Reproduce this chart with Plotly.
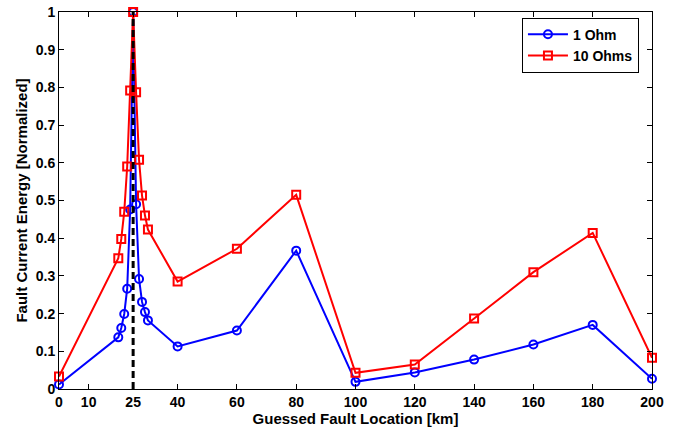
import plotly.graph_objects as go

# Guessed fault locations [km] and normalized fault current energies
location_km = [0, 20, 21, 22, 23, 24, 25, 26, 27, 28, 29, 30, 40, 60, 80, 100, 120, 140, 160, 180, 200]
energy_1ohm = [0.012, 0.137, 0.162, 0.199, 0.266, 0.476, 1.0, 0.490, 0.292, 0.231, 0.204, 0.182,
               0.113, 0.155, 0.367, 0.019, 0.044, 0.078, 0.118, 0.170, 0.027]
energy_10ohm = [0.033, 0.347, 0.398, 0.470, 0.590, 0.792, 1.0, 0.787, 0.608, 0.513, 0.460, 0.423,
                0.285, 0.372, 0.515, 0.043, 0.065, 0.187, 0.310, 0.414, 0.083]

# Actual fault position marker
actual_fault_km = 25
marker_span = [0, 1]

x_ticks = [0, 10, 25, 40, 60, 80, 100, 120, 140, 160, 180, 200]
x_tick_text = [str(v) for v in x_ticks]
y_ticks = [0, 0.1, 0.2, 0.3, 0.4, 0.5, 0.6, 0.7, 0.8, 0.9, 1]
y_tick_text = ["0", "0.1", "0.2", "0.3", "0.4", "0.5", "0.6", "0.7", "0.8", "0.9", "1"]

FONT = "Arial, Liberation Sans, sans-serif"


def bold(labels):
    return [f"<b>{t}</b>" for t in labels]


fig = go.Figure()
fig.add_trace(go.Scatter(
    x=location_km, y=energy_1ohm, name="<b>1 Ohm</b>", mode="lines+markers",
    line=dict(color="#0000FF", width=2),
    marker=dict(symbol="circle-open", size=8, color="#0000FF", line=dict(width=2)),
    cliponaxis=False,
))
fig.add_trace(go.Scatter(
    x=location_km, y=energy_10ohm, name="<b>10 Ohms</b>", mode="lines+markers",
    line=dict(color="#FF0000", width=2),
    marker=dict(symbol="square-open", size=8, color="#FF0000", line=dict(width=2)),
    cliponaxis=False,
))
fig.add_trace(go.Scatter(
    x=[actual_fault_km, actual_fault_km], y=marker_span, mode="lines",
    line=dict(color="black", width=3, dash="7px,4px"), showlegend=False, hoverinfo="skip",
))

axis_common = dict(
    showgrid=False, zeroline=False, showline=True, linecolor="black", linewidth=1,
    mirror="ticks", ticks="inside", ticklen=5, tickcolor="black", tickwidth=1,
    tickfont=dict(family=FONT, size=14, color="black"), automargin=False,
)

fig.update_layout(
    width=675, height=432,
    margin=dict(l=59, r=23, t=12, b=43, autoexpand=False),
    paper_bgcolor="white", plot_bgcolor="white",
    font=dict(family=FONT, color="black"),
    xaxis=dict(
        range=[0, 200], tickmode="array", tickvals=x_ticks, ticktext=bold(x_tick_text),
        title=dict(text="<b>Guessed Fault Location [km]</b>", standoff=1,
                   font=dict(family=FONT, size=15, color="black")),
        **axis_common,
    ),
    yaxis=dict(
        range=[0, 1], tickmode="array", tickvals=y_ticks, ticktext=bold(y_tick_text),
        title=dict(text="<b>Fault Current Energy [Normalized]</b>", standoff=4,
                   font=dict(family=FONT, size=15, color="black")),
        **axis_common,
    ),
    legend=dict(
        x=0.978, y=0.985, xanchor="right", yanchor="top",
        bgcolor="white", bordercolor="black", borderwidth=1,
        font=dict(family=FONT, size=14, color="black"),
        tracegroupgap=0, itemwidth=40,
    ),
)

fig.write_html("out.html")
